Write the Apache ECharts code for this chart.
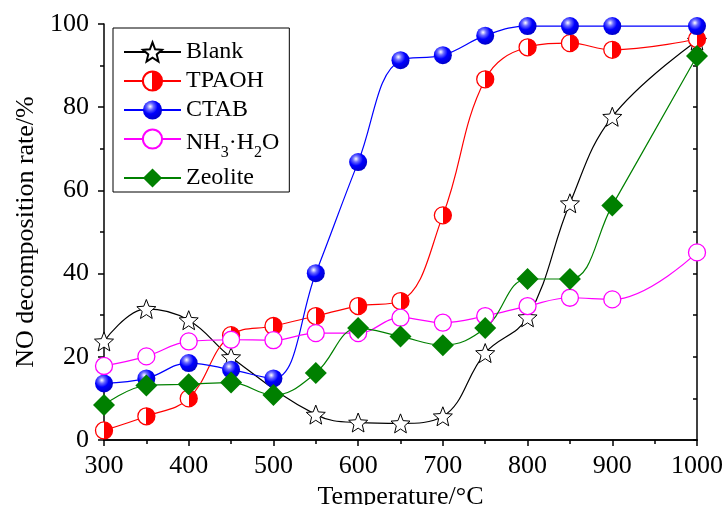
<!DOCTYPE html>
<html>
<head>
<meta charset="utf-8">
<script src="https://cdn.jsdelivr.net/npm/echarts@6/dist/echarts.min.js"></script>
<style>
  html, body { margin: 0; padding: 0; background: #fff; }
  #main { width: 725px; height: 505px; }
</style>
</head>
<body>
<div id="main"></div>
<script>
// temperatures (°C) and NO decomposition rate (%)
var temps = [300, 350, 400, 450, 500, 550, 600, 650, 700, 750, 800, 850, 900, 1000];
var blankTemps = [300, 350, 400, 450, 550, 600, 650, 700, 750, 800, 850, 900, 1000];
var blank = [23.7, 31.5, 28.8, 19.9, 6.1, 4.2, 4.0, 5.7, 20.9, 29.5, 56.9, 77.7, 96.0];
var tpaoh = [2.3, 5.7, 10.0, 25.2, 27.4, 29.8, 32.2, 33.4, 54.0, 86.7, 94.4, 95.4, 93.8, 96.4];
var ctab = [13.6, 14.8, 18.5, 16.9, 14.8, 40.1, 66.8, 91.3, 92.5, 97.2, 99.5, 99.5, 99.5, 99.5];
var nh3 = [17.8, 20.1, 23.7, 24.1, 24.0, 25.7, 25.7, 29.4, 28.2, 29.8, 32.2, 34.2, 33.8, 45.1];
var zeolite = [8.4, 13.1, 13.4, 13.8, 10.8, 16.1, 26.9, 24.9, 22.8, 26.9, 38.7, 38.7, 56.4, 92.3];

var font = 'Liberation Serif';

function pairs(xs, ys) {
  return xs.map(function (x, i) { return [x, ys[i]]; });
}

// five point star outline for the Blank markers
function starPath() {
  var pts = [];
  for (var i = 0; i < 10; i++) {
    var r = i % 2 ? 4.4 : 10;
    var a = -Math.PI / 2 + i * Math.PI / 5;
    pts.push((10 + r * Math.cos(a)).toFixed(2) + ' ' + (10 + r * Math.sin(a)).toFixed(2));
  }
  return 'path://M' + pts.join(' L') + ' Z';
}

function line(name, xs, ys, color, symbol, size, itemStyle) {
  return {
    name: name,
    type: 'line',
    data: pairs(xs, ys),
    smooth: 0.4,
    symbol: symbol,
    symbolSize: size,
    lineStyle: { color: color, width: 1.2 },
    itemStyle: itemStyle
  };
}

var chart = echarts.init(document.getElementById('main'));

var halfRed = {
  type: 'linear', x: 0, y: 0, x2: 1, y2: 0,
  colorStops: [
    { offset: 0, color: '#fff' }, { offset: 0.5, color: '#fff' },
    { offset: 0.5, color: '#ff0000' }, { offset: 1, color: '#ff0000' }
  ]
};
var sphere = {
  type: 'radial', x: 0.38, y: 0.32, r: 0.7,
  colorStops: [
    { offset: 0, color: '#ffffff' }, { offset: 0.25, color: '#6a6aff' },
    { offset: 0.55, color: '#0000ff' }, { offset: 1, color: '#0000c8' }
  ]
};

var axisLineStyle = { color: '#000', width: 1.5 };
var plain = function (v) { return String(v); };

chart.setOption({
  animation: false,
  backgroundColor: '#fff',
  grid: { left: 104, right: 28, top: 24, bottom: 65, containLabel: false, outerBoundsMode: 'none' },
  legend: {
    orient: 'vertical',
    left: 113,
    top: 28,
    itemWidth: 57,
    itemHeight: 24,
    itemGap: 5,
    padding: [12, 10, 2, 10],
    borderColor: '#000',
    borderWidth: 1,
    textStyle: {
      fontFamily: font, fontSize: 24, color: '#000', lineHeight: 24,
      rich: {
        a: { fontFamily: font, fontSize: 24, color: '#000', lineHeight: 24, verticalAlign: 'top', padding: [4, 0, 0, 0] },
        s: { fontFamily: font, fontSize: 16, color: '#000', lineHeight: 16, verticalAlign: 'top', padding: [18, 0, 0, 0] }
      }
    },
    formatter: function (n) {
      return n === 'NH3·H2O' ? '{a|NH}{s|3}{a|·H}{s|2}{a|O}' : n;
    },
    data: ['Blank', 'TPAOH', 'CTAB', 'NH3·H2O', 'Zeolite']
  },
  xAxis: [{
    type: 'value', min: 300, max: 1000, interval: 100, position: 'bottom',
    axisLine: { lineStyle: axisLineStyle },
    axisTick: { inside: false, length: 6, lineStyle: axisLineStyle },
    minorTick: { show: true, splitNumber: 2, length: 4, lineStyle: axisLineStyle },
    splitLine: { show: false },
    axisLabel: { color: '#000', fontFamily: font, fontSize: 26, margin: 13, formatter: plain },
    name: 'Temperature/°C', nameLocation: 'middle', nameGap: 40,
    nameTextStyle: { color: '#000', fontFamily: font, fontSize: 26 }
  }, {
    type: 'value', min: 300, max: 1000, interval: 100, position: 'top',
    axisLine: { lineStyle: axisLineStyle },
    axisTick: { inside: true, length: 4, lineStyle: axisLineStyle },
    minorTick: { show: true, splitNumber: 2, length: 4, lineStyle: axisLineStyle },
    splitLine: { show: false },
    axisLabel: { show: false }
  }],
  yAxis: [{
    type: 'value', min: 0, max: 100, interval: 20, position: 'left',
    axisLine: { show: true, lineStyle: axisLineStyle },
    axisTick: { show: true, inside: false, length: 6, lineStyle: axisLineStyle },
    minorTick: { show: true, splitNumber: 2, length: 4, lineStyle: axisLineStyle },
    splitLine: { show: false },
    axisLabel: { color: '#000', fontFamily: font, fontSize: 26, margin: 15, formatter: plain },
    name: 'NO decomposition rate/%', nameLocation: 'middle', nameGap: 62,
    nameTextStyle: { color: '#000', fontFamily: font, fontSize: 26 }
  }, {
    type: 'value', min: 0, max: 100, interval: 20, position: 'right',
    axisLine: { show: true, lineStyle: axisLineStyle },
    axisTick: { show: true, inside: true, length: 4, lineStyle: axisLineStyle },
    minorTick: { show: true, splitNumber: 2, length: 4, lineStyle: axisLineStyle },
    splitLine: { show: false },
    axisLabel: { show: false }
  }],
  series: [
    line('Blank', blankTemps, blank, '#000', starPath(), 19,
      { color: '#fff', borderColor: '#000', borderWidth: 1 }),
    line('TPAOH', temps, tpaoh, '#ff0000', 'circle', 17,
      { color: halfRed, borderColor: '#ff0000', borderWidth: 1.3 }),
    line('CTAB', temps, ctab, '#0000ff', 'circle', 18,
      { color: sphere, borderWidth: 0 }),
    line('NH3·H2O', temps, nh3, '#ff00ff', 'circle', 17,
      { color: '#fff', borderColor: '#ff00ff', borderWidth: 1.3 }),
    line('Zeolite', temps, zeolite, '#008000', 'diamond', 22,
      { color: '#008000', borderWidth: 0 })
  ]
});
</script>
</body>
</html>
